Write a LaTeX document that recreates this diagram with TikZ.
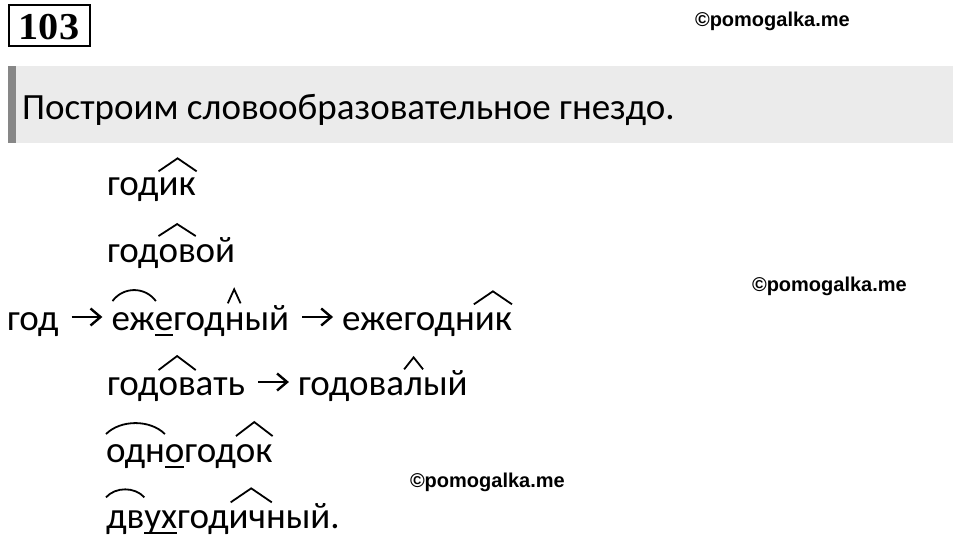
\documentclass[tikz,border=0pt]{standalone}
\usepackage{fontspec}
\setmainfont{Carlito}
\newfontfamily\wmfont{Liberation Sans}
\newfontfamily\numfont{Liberation Serif}
\usetikzlibrary{calc,arrows.meta}
\definecolor{bandc}{HTML}{EBEBEB}
\definecolor{barc}{HTML}{878787}
\tikzset{
  wd/.style={inner sep=0pt, outer sep=0pt, anchor=base west, font=\fontsize{37}{44}\selectfont},
  mk/.style={line width=1.8pt},
  ulst/.style={line width=2pt},
  arrl/.style={line width=2.4pt, line join=miter},
  wm/.style={inner sep=0pt, outer sep=0pt, anchor=base west, font=\wmfont\bfseries\fontsize{20}{24}\selectfont},
}
\newcommand\mkcap[5]{\path ($(#1.north west)+(#2,-#4)$) coordinate (cA) ($(#1.north east)+(#3,-#4)$) coordinate (cB);
  \draw[mk] (cA) -- ($(cA)!0.5!(cB)+(0,-#5)$) -- (cB);}
\newcommand\mkarc[5]{\path ($(#1.north west)+(#2,-#4)$) coordinate (cA) ($(#1.north east)+(#3,-#4)$) coordinate (cB);
  \draw[mk] (cA) .. controls ($(cA)!0.25!(cB)+(0,-#5*1.333)$) and ($(cA)!0.75!(cB)+(0,-#5*1.333)$) .. (cB);}
\newcommand\mkul[1]{\draw[ulst] ($(#1.base west)+(0,5)$) -- ($(#1.base east)+(0,5)$);}
\newcommand\mkarrow[2]{\path ($(#1.base east)+(13,-13)$) coordinate (aA) ($(#2.base west)+(-11,-13)$) coordinate (aB);
  \draw[arrl] (aA) -- (aB);
  \draw[arrl] ($(aB)+(-10,-8.5)$) -- (aB) -- ($(aB)+(-10,8.5)$);}
\begin{document}
\begin{tikzpicture}[x=1pt,y=-1pt]
\useasboundingbox (0,0) rectangle (960,538);
\fill[white] (0,0) rectangle (960,538);
% number box
\draw[line width=2pt] (9,5) rectangle (90,46);
\node[inner sep=0pt, font=\numfont\bfseries\fontsize{38}{42}\selectfont] (num) at (49,27.5) {\scalebox{1.06}[1]{103}};
% watermarks
\node[wm] (wm1) at (695,26) {©pomogalka.me};
\node[wm] (wm2) at (752,291) {©pomogalka.me};
\node[wm] (wm3) at (410,487) {©pomogalka.me};
% title band
\fill[bandc] (8,66) rectangle (953,143);
\fill[barc] (8,66) rectangle (16,143);
\node[inner sep=0pt, anchor=base west, font=\fontsize{37}{44}\selectfont] (title) at (22,119) {Построим словообразовательное гнездо.};
% row 1
\node[wd] (r1a) at (107,195) {год};
\node[wd] (r1b) at (r1a.base east) {ик};
\mkcap{r1b}{0}{1}{6}{13}
% row 2
\node[wd] (r2a) at (107,262) {год};
\node[wd] (r2b) at (r2a.base east) {ов};
\node[wd] (r2c) at (r2b.base east) {ой};
\mkcap{r2b}{0}{0}{8}{12}
% row 3
\node[wd] (r3a) at (7,330) {год};
\node[wd] (r3b) at ($(r3a.base east)+(53,0)$) {еж};
\node[wd] (r3c) at (r3b.base east) {е};
\node[wd] (r3d) at (r3c.base east) {год};
\node[wd] (r3e) at (r3d.base east) {н};
\node[wd] (r3f) at (r3e.base east) {ый};
\node[wd] (r3g) at ($(r3f.base east)+(53,0)$) {ежегодн};
\node[wd] (r3h) at (r3g.base east) {ик};
\mkarrow{r3a}{r3b}
\mkarrow{r3f}{r3g}
\mkarc{r3b}{1}{1}{11}{11}
\mkul{r3c}
\mkcap{r3e}{3}{-4}{9}{14}
\mkcap{r3h}{-1}{0}{8}{13}
% row 4
\node[wd] (r4a) at (107,395) {год};
\node[wd] (r4b) at (r4a.base east) {ов};
\node[wd] (r4c) at (r4b.base east) {ать};
\node[wd] (r4d) at ($(r4c.base east)+(53,0)$) {годова};
\node[wd] (r4e) at (r4d.base east) {л};
\node[wd] (r4f) at (r4e.base east) {ый};
\mkarrow{r4c}{r4d}
\mkcap{r4b}{0}{0}{7}{14}
\mkcap{r4e}{0}{0}{8}{12}
% row 5
\node[wd] (r5a) at (106,462) {одн};
\node[wd] (r5b) at (r5a.base east) {о};
\node[wd] (r5c) at (r5b.base east) {год};
\node[wd] (r5d) at (r5c.base east) {ок};
\mkarc{r5a}{0}{0}{10}{11}
\mkul{r5b}
\mkcap{r5d}{0}{0}{8}{14}
% row 6
\node[wd] (r6a) at (106,528) {дв};
\node[wd] (r6b) at (r6a.base east) {ух};
\node[wd] (r6c) at (r6b.base east) {год};
\node[wd] (r6d) at (r6c.base east) {ичн};
\node[wd] (r6e) at (r6d.base east) {ый.};
\mkarc{r6a}{0}{0}{13}{8}
\mkul{r6b}
\mkcap{r6d}{2}{-14}{8}{14}
\end{tikzpicture}
\end{document}
